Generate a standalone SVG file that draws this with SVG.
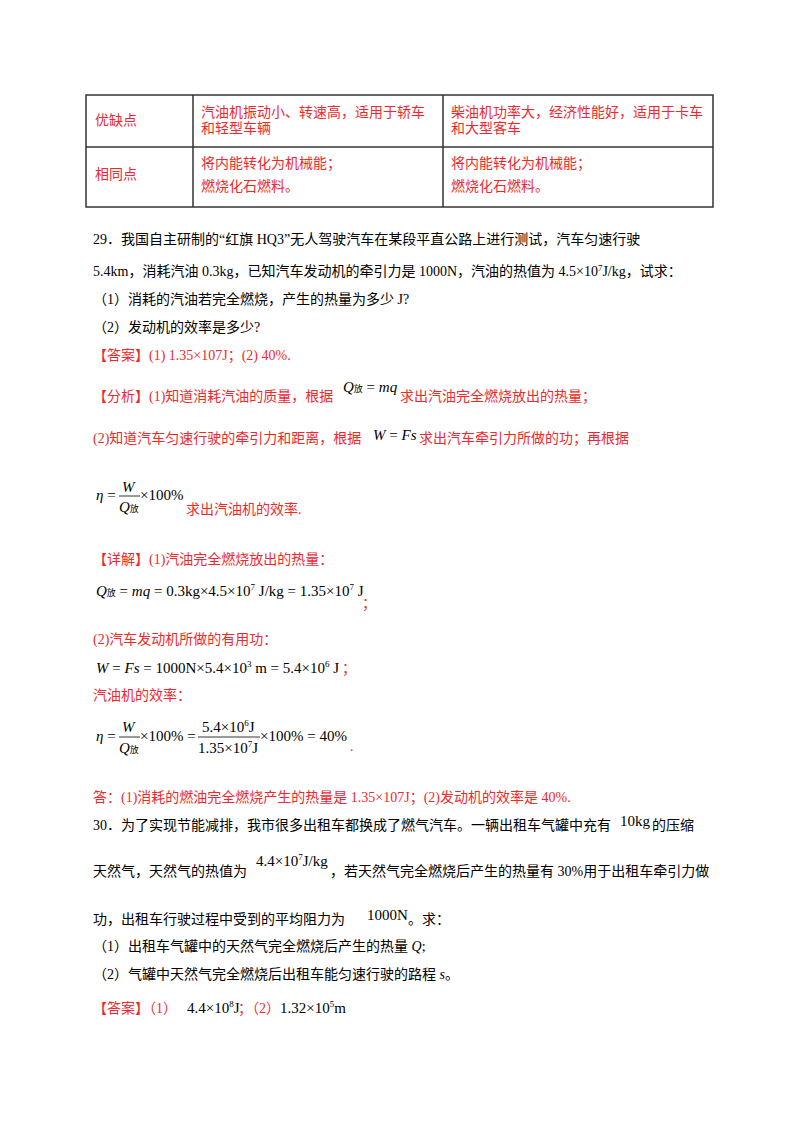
<svg xmlns="http://www.w3.org/2000/svg" width="800" height="1132" viewBox="0 0 800 1132">
<style>
text{font-family:"Liberation Serif","Noto Sans CJK SC",serif;font-size:14px;fill:#000}
.r{fill:#f0282d}
.m{font-family:"Liberation Serif","Noto Sans CJK SC",serif;font-size:15px}
.i{font-style:italic}
.s{font-size:9px}
.ln{stroke:#000;stroke-width:0.8}
</style>
<rect x="0" y="0" width="800" height="1132" fill="#fff"/>
<g fill="none" stroke="#333" stroke-width="1.5">
<rect x="86" y="95" width="627" height="112"/>
<line x1="86" y1="147" x2="713" y2="147"/>
<line x1="193" y1="95" x2="193" y2="207"/>
<line x1="443" y1="95" x2="443" y2="207"/>
</g>
<text class="r" x="95" y="125">优缺点</text>
<text class="r" x="201" y="117">汽油机振动小、转速高，适用于轿车</text>
<text class="r" x="201" y="133">和轻型车辆</text>
<text class="r" x="451" y="117">柴油机功率大，经济性能好，适用于卡车</text>
<text class="r" x="451" y="133">和大型客车</text>
<text class="r" x="95" y="179">相同点</text>
<text class="r" x="201" y="168">将内能转化为机械能；</text>
<text class="r" x="201" y="191">燃烧化石燃料。</text>
<text class="r" x="451" y="168">将内能转化为机械能；</text>
<text class="r" x="451" y="191">燃烧化石燃料。</text>

<text x="93" y="244">29．我国自主研制的“红旗 HQ3”无人驾驶汽车在某段平直公路上进行测试，汽车匀速行驶</text>
<text x="93" y="276">5.4km，消耗汽油 0.3kg，已知汽车发动机的牵引力是 1000N，汽油的热值为 4.5×10<tspan class="s" dy="-5">7</tspan><tspan dy="5">J/kg，试求：</tspan></text>
<text x="93" y="304">（1）消耗的汽油若完全燃烧，产生的热量为多少 J?</text>
<text x="93" y="332">（2）发动机的效率是多少?</text>
<text class="r" x="93" y="360">【答案】(1) 1.35×107J；(2) 40%.</text>
<text class="r" x="93" y="401">【分析】(1)知道消耗汽油的质量，根据</text>
<text class="m i" x="343" y="392">Q<tspan class="s" font-style="normal">放</tspan><tspan font-style="normal"> = </tspan>mq</text>
<text class="r" x="400" y="401">求出汽油完全燃烧放出的热量；</text>
<text class="r" x="93" y="443">(2)知道汽车匀速行驶的牵引力和距离，根据</text>
<text class="m i" x="373" y="440">W<tspan font-style="normal"> = </tspan>Fs</text>
<text class="r" x="419" y="443">求出汽车牵引力所做的功；再根据</text>
<text class="m i" x="96" y="500">η<tspan font-style="normal"> =</tspan></text>
<text class="m i" x="122" y="492">W</text>
<line class="ln" x1="119" y1="496" x2="140" y2="496"/>
<text class="m i" x="119" y="512">Q<tspan class="s" font-style="normal">放</tspan></text>
<text class="m" x="140" y="500">×100%</text>
<text class="r" x="186" y="514">求出汽油机的效率.</text>

<text class="r" x="93" y="564">【详解】(1)汽油完全燃烧放出的热量：</text>
<text class="m" x="96" y="596"><tspan class="i">Q</tspan><tspan class="s">放</tspan> = <tspan class="i">mq</tspan> = 0.3kg×4.5×10<tspan class="s" dy="-6">7</tspan><tspan dy="6"> J/kg = 1.35×10</tspan><tspan class="s" dy="-6">7</tspan><tspan dy="6"> J</tspan></text>
<text class="r" x="362" y="608">；</text>
<text class="r" x="93" y="644">(2)汽车发动机所做的有用功：</text>
<text class="m" x="96" y="673"><tspan class="i">W</tspan> = <tspan class="i">Fs</tspan> = 1000N×5.4×10<tspan class="s" dy="-6">3</tspan><tspan dy="6"> m = 5.4×10</tspan><tspan class="s" dy="-6">6</tspan><tspan dy="6"> J</tspan></text>
<text class="r" x="342" y="673">；</text>
<text class="r" x="93" y="700">汽油机的效率：</text>
<text class="m i" x="96" y="741">η<tspan font-style="normal"> =</tspan></text>
<text class="m i" x="122" y="732">W</text>
<line class="ln" x1="119" y1="737" x2="140" y2="737"/>
<text class="m i" x="119" y="753">Q<tspan class="s" font-style="normal">放</tspan></text>
<text class="m" x="140" y="741">×100% =</text>
<text class="m" x="202" y="732">5.4×10<tspan class="s" dy="-6">6</tspan><tspan dy="6">J</tspan></text>
<line class="ln" x1="198" y1="737" x2="260" y2="737"/>
<text class="m" x="198" y="753">1.35×10<tspan class="s" dy="-6">7</tspan><tspan dy="6">J</tspan></text>
<text class="m" x="260" y="741">×100% = 40%</text>
<text class="r" x="350" y="751">.</text>

<text class="r" x="93" y="802">答：(1)消耗的燃油完全燃烧产生的热量是 1.35×107J；(2)发动机的效率是 40%.</text>
<text x="93" y="830">30．为了实现节能减排，我市很多出租车都换成了燃气汽车。一辆出租车气罐中充有</text>
<text class="m" x="620" y="826">10kg</text>
<text x="652" y="830">的压缩</text>
<text x="93" y="876">天然气，天然气的热值为</text>
<text class="m" x="256" y="866">4.4×10<tspan class="s" dy="-6">7</tspan><tspan dy="6">J/kg</tspan></text>
<text x="330" y="876">，若天然气完全燃烧后产生的热量有 30%用于出租车牵引力做</text>
<text x="93" y="924">功，出租车行驶过程中受到的平均阻力为</text>
<text class="m" x="367" y="920">1000N</text>
<text x="408" y="924">。求：</text>
<text x="93" y="951">（1）出租车气罐中的天然气完全燃烧后产生的热量 <tspan class="i">Q</tspan>;</text>
<text x="93" y="979">（2）气罐中天然气完全燃烧后出租车能匀速行驶的路程 <tspan class="i">s</tspan>。</text>
<text class="r" x="93" y="1013">【答案】（1）</text>
<text class="m" x="187" y="1013">4.4×10<tspan class="s" dy="-6">8</tspan><tspan dy="6">J</tspan></text>
<text class="r" x="238" y="1013">；（2）</text>
<text class="m" x="280" y="1013">1.32×10<tspan class="s" dy="-6">5</tspan><tspan dy="6">m</tspan></text>
</svg>
